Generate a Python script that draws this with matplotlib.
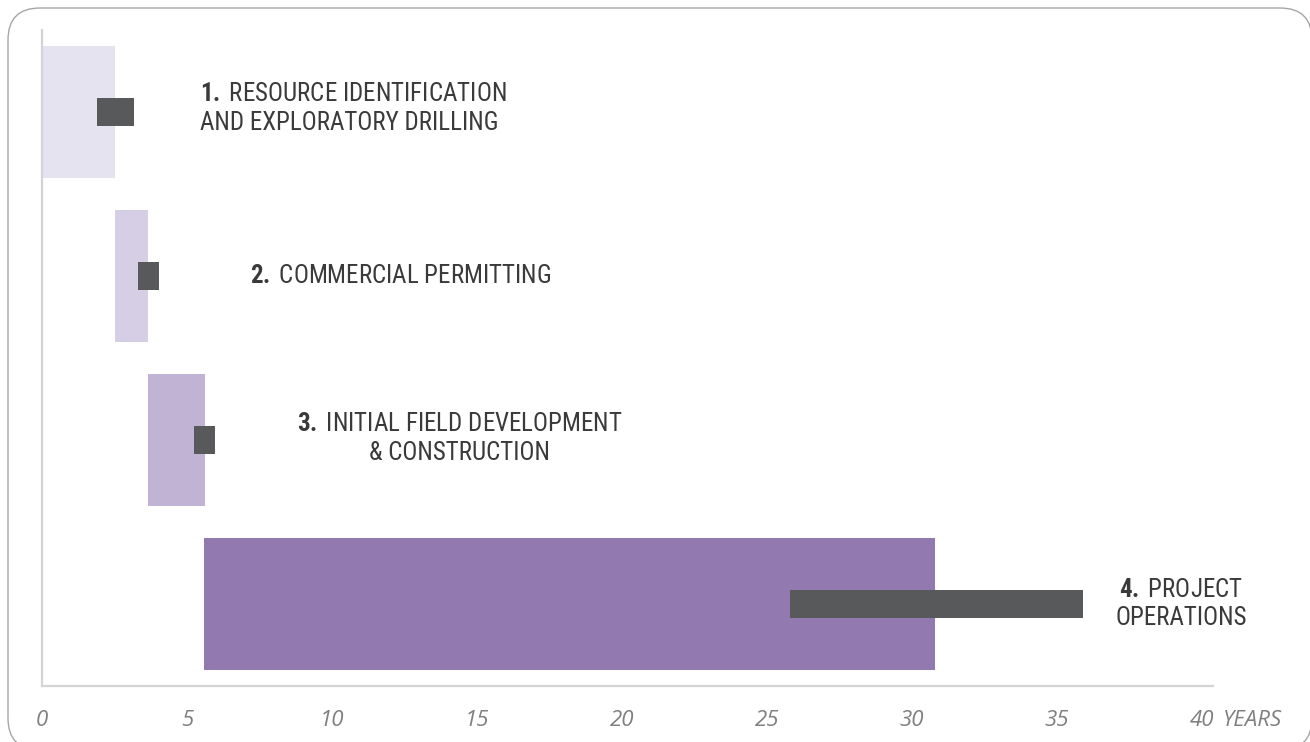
import matplotlib
matplotlib.use("Agg")
import matplotlib.pyplot as plt
from matplotlib import font_manager
from matplotlib.patches import FancyBboxPatch

# phases, top to bottom
phase_num = ["1.", "2.", "3.", "4."]
phase_text = [
    "RESOURCE IDENTIFICATION\nAND EXPLORATORY DRILLING",
    "COMMERCIAL PERMITTING",
    "INITIAL FIELD DEVELOPMENT\n& CONSTRUCTION",
    "PROJECT\nOPERATIONS",
]
phase_start = [0.0, 2.52, 3.66, 5.59]
phase_end = [2.52, 3.66, 5.62, 30.79]
phase_colors = ["#e6e3f0", "#d6cee4", "#c1b3d4", "#927ab0"]

# dark duration bars
dur_start = [1.90, 3.31, 5.24, 25.79]
dur_end = [3.17, 4.03, 5.97, 35.90]

tick_values = [0, 5, 10, 15, 20, 25, 30, 35, 40]
tick_labels = ["0", "5", "10", "15", "20", "25", "30", "35", "40"]

# label placement (x in years, alignment)
label_x = [5.45, 7.17, 14.4, 39.28]
label_ha = ["left", "left", "center", "center"]
label_dy = [-0.02, 0.0, -0.01, 0.0]

# look for a condensed sans for the phase labels
fam, stretch, size = "Liberation Sans", "normal", 15.5
entries = font_manager.fontManager.ttflist
narrow = [f for f in entries if ("Narrow" in f.name or "Condensed" in f.name)
          and f.style == "normal"]
cond = [f for f in entries if str(f.stretch) in ("condensed", "semi-condensed", "575", "625", "700")
        and f.style == "normal"]
if narrow:
    pref = sorted(narrow, key=lambda f: ("Liberation" not in f.name, "Roboto" not in f.name, f.name))
    fam, size = pref[0].name, 18
elif cond:
    fam, stretch, size = cond[0].name, "condensed", 17.5

plt.rcParams["mathtext.fontset"] = "custom"
plt.rcParams["mathtext.rm"] = f"{fam}:stretch={stretch}"
plt.rcParams["mathtext.bf"] = f"{fam}:bold:stretch={stretch}"

phase_labels = []
for num, txt in zip(phase_num, phase_text):
    phase_labels.append(r"$\mathbf{" + num + r"}\,$" + txt)

fig = plt.figure(figsize=(13.1, 7.42), dpi=100)

# rounded frame around the whole picture
bg = fig.add_axes([0, 0, 1, 1], zorder=-1)
bg.set_xlim(0, 1310)
bg.set_ylim(742, 0)
bg.axis("off")
bg.add_patch(FancyBboxPatch((8, 8), 1304, 742, boxstyle="round,pad=0,rounding_size=32",
                            fc="white", ec="#a6a6a6", lw=1.0))

ax = fig.add_axes([42 / 1310, 56 / 742, (1213 - 42) / 1310, (686 - 30) / 742])
ax.patch.set_alpha(0)

y = list(range(len(phase_labels)))
widths = [e - s for s, e in zip(phase_start, phase_end)]
ax.barh(y, widths, left=phase_start, height=0.81, color=phase_colors, zorder=2)
dwidths = [e - s for s, e in zip(dur_start, dur_end)]
ax.barh(y, dwidths, left=dur_start, height=0.17, color="#58595b", zorder=3)

for i, lab in enumerate(phase_labels):
    ax.text(label_x[i], y[i] + label_dy[i], lab, ha=label_ha[i], va="center",
            multialignment=label_ha[i], family=[fam, "DejaVu Sans"], fontstretch=stretch,
            fontsize=size, color="#3a3a3b", linespacing=1.25, clip_on=False)

tick_font = dict(fontstyle="italic", family=["Open Sans", "DejaVu Sans"], fontsize=16,
                 color="#808080")
ax.set_xlim(0, 40.38)
ax.set_ylim(3.5, -0.5)
ax.set_yticks([])
ax.set_xticks(tick_values)
ax.set_xticklabels(tick_labels, **tick_font)
ax.tick_params(axis="x", length=0, pad=17)
ax.annotate("YEARS", xy=(40, 0), xycoords=("data", "axes fraction"),
            xytext=(15, -17), textcoords="offset points", ha="left", va="top",
            annotation_clip=False, **tick_font)

for side in ["top", "right"]:
    ax.spines[side].set_visible(False)
for side in ["left", "bottom"]:
    ax.spines[side].set_color("#d4d4d4")
    ax.spines[side].set_linewidth(1.6)

fig.savefig("out.png", dpi=100)
